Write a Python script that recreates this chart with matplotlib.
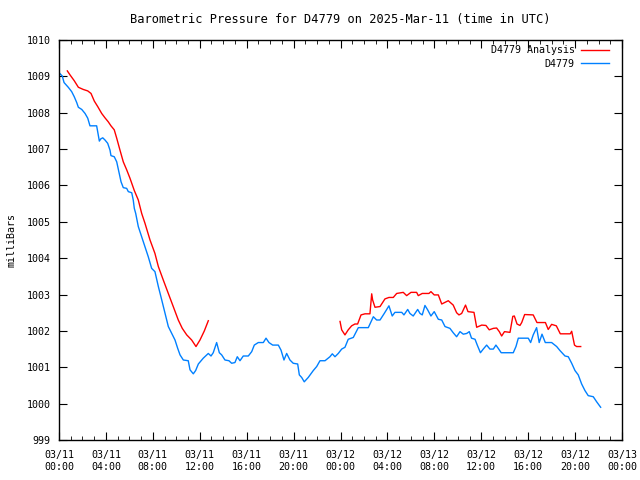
import matplotlib
matplotlib.use("Agg")
import matplotlib.pyplot as plt
import numpy as np

# hours since 2025-03-11 00:00 UTC, pressure in mb
obs_t = [0.00, 0.28, 0.43, 0.79, 1.08, 1.30, 1.51, 1.65, 1.94, 2.22, 2.45, 2.64, 3.21, 3.35, 3.44,
         3.56, 3.73, 3.92, 4.15, 4.35, 4.43, 4.71, 4.92, 5.14, 5.29, 5.48, 5.77, 5.91, 6.20, 6.33,
         6.42, 6.54, 6.76, 7.05, 7.33, 7.61, 7.90, 8.18, 8.47, 8.76, 9.04, 9.32, 9.61, 9.89, 10.12,
         10.32, 10.60, 11.02, 11.17, 11.45, 11.65, 11.88, 12.30, 12.73, 12.96, 13.15, 13.44, 13.67,
         13.87, 14.15, 14.49, 14.72, 15.00, 15.20, 15.43, 15.71, 16.14, 16.43, 16.65, 16.99, 17.42,
         17.65, 17.90, 18.22, 18.70, 18.93, 19.18, 19.41, 19.69, 19.97, 20.35, 20.49, 20.69, 20.91,
         21.25, 21.68, 21.97, 22.25, 22.68, 23.10, 23.30, 23.53, 23.81, 24.10, 24.38, 24.66, 25.09,
         25.52, 26.37, 26.80, 27.08, 27.37, 27.73, 28.13, 28.41, 28.64, 29.22, 29.41, 29.73, 29.92,
         30.20, 30.58, 30.78, 30.97, 31.20, 31.43, 31.71, 31.99, 32.34, 32.63, 32.91, 33.33, 33.61,
         33.90, 34.19, 34.47, 34.76, 34.98, 35.17, 35.47, 35.66, 35.93, 36.17, 36.46, 36.74, 37.03,
         37.25, 37.45, 37.70, 38.73, 38.96, 39.16, 40.01, 40.21, 40.43, 40.72, 40.94, 41.18, 41.46,
         42.00, 42.43, 42.71, 43.14, 43.42, 43.71, 43.99, 44.27, 44.56, 44.84, 45.12, 45.55, 45.84,
         46.18]
obs_p = [1009.10, 1009.01, 1008.83, 1008.70, 1008.58, 1008.44, 1008.28, 1008.15, 1008.09, 1007.98,
         1007.85, 1007.64, 1007.64, 1007.39, 1007.22, 1007.28, 1007.31, 1007.25, 1007.16, 1006.97,
         1006.82, 1006.79, 1006.65, 1006.33, 1006.10, 1005.94, 1005.92, 1005.83, 1005.80, 1005.60,
         1005.37, 1005.23, 1004.87, 1004.59, 1004.32, 1004.04, 1003.72, 1003.63, 1003.22, 1002.85,
         1002.48, 1002.12, 1001.93, 1001.75, 1001.52, 1001.34, 1001.20, 1001.18, 1000.93, 1000.82,
         1000.91, 1001.09, 1001.25, 1001.38, 1001.31, 1001.40, 1001.68, 1001.40, 1001.34, 1001.20,
         1001.18, 1001.11, 1001.13, 1001.29, 1001.18, 1001.31, 1001.31, 1001.43, 1001.61, 1001.68,
         1001.68, 1001.80, 1001.68, 1001.61, 1001.61, 1001.47, 1001.20, 1001.38, 1001.20, 1001.11,
         1001.09, 1000.79, 1000.72, 1000.60, 1000.72, 1000.91, 1001.02, 1001.18, 1001.18, 1001.29,
         1001.37, 1001.29, 1001.38, 1001.50, 1001.55, 1001.77, 1001.82, 1002.09, 1002.09, 1002.39,
         1002.30, 1002.30, 1002.48, 1002.69, 1002.41, 1002.51, 1002.51, 1002.44, 1002.59, 1002.48,
         1002.41, 1002.59, 1002.48, 1002.44, 1002.70, 1002.58, 1002.41, 1002.53, 1002.32, 1002.30,
         1002.12, 1002.07, 1001.95, 1001.84, 1001.98, 1001.91, 1001.93, 1001.98, 1001.80, 1001.77,
         1001.61, 1001.40, 1001.50, 1001.61, 1001.50, 1001.50, 1001.61, 1001.52, 1001.40, 1001.40,
         1001.57, 1001.80, 1001.80, 1001.68, 1001.89, 1002.09, 1001.68, 1001.91, 1001.68, 1001.68,
         1001.57, 1001.46, 1001.31, 1001.29, 1001.11, 1000.91, 1000.79, 1000.54, 1000.36, 1000.22,
         1000.19, 1000.05, 999.90]

# analysis, two pieces with a gap between them
ana1_t = [0.71, 0.94, 1.30, 1.65, 2.07, 2.45, 2.73, 3.01, 3.30, 3.64, 3.92, 4.20, 4.43, 4.71, 4.92,
          5.20, 5.48, 5.77, 6.05, 6.42, 6.76, 7.05, 7.33, 7.76, 8.18, 8.47, 8.89, 9.32, 9.74, 10.17,
          10.51, 10.89, 11.31, 11.68, 12.02, 12.39, 12.73]
ana1_p = [1009.15, 1009.04, 1008.88, 1008.70, 1008.64, 1008.60, 1008.53, 1008.32, 1008.17, 1007.98,
          1007.86, 1007.75, 1007.64, 1007.53, 1007.30, 1006.97, 1006.65, 1006.43, 1006.20, 1005.86,
          1005.60, 1005.23, 1004.96, 1004.50, 1004.13, 1003.77, 1003.40, 1003.03, 1002.67, 1002.30,
          1002.07, 1001.89, 1001.75, 1001.57, 1001.75, 1002.00, 1002.28]
ana2_t = [23.96, 24.10, 24.38, 24.66, 24.95, 25.23, 25.46, 25.75, 26.09, 26.51, 26.66, 26.74, 26.94,
          27.37, 27.79, 28.13, 28.50, 28.79, 29.35, 29.64, 30.01, 30.49, 30.63, 30.97, 31.54, 31.71,
          31.99, 32.34, 32.63, 33.19, 33.61, 33.90, 34.10, 34.33, 34.66, 34.87, 35.38, 35.61, 36.04,
          36.40, 36.68, 37.03, 37.31, 37.54, 37.74, 37.98, 38.45, 38.69, 38.82, 39.05, 39.30, 39.45,
          39.70, 40.43, 40.75, 41.47, 41.71, 42.00, 42.40, 42.74, 43.59, 43.71, 43.95, 44.13, 44.48]
ana2_p = [1002.26, 1002.03, 1001.89, 1002.03, 1002.14, 1002.19, 1002.19, 1002.44, 1002.47, 1002.47,
          1003.02, 1002.85, 1002.65, 1002.67, 1002.88, 1002.92, 1002.92, 1003.03, 1003.06, 1002.97,
          1003.06, 1003.06, 1002.97, 1003.03, 1003.03, 1003.08, 1002.99, 1002.99, 1002.74, 1002.83,
          1002.71, 1002.50, 1002.44, 1002.48, 1002.71, 1002.53, 1002.51, 1002.10, 1002.16, 1002.15,
          1002.03, 1002.07, 1002.08, 1001.98, 1001.86, 1001.98, 1001.96, 1002.40, 1002.41, 1002.19,
          1002.15, 1002.23, 1002.45, 1002.44, 1002.23, 1002.23, 1002.04, 1002.18, 1002.14, 1001.92,
          1001.92, 1001.99, 1001.61, 1001.57, 1001.57]

xticks = list(range(0, 49, 4))
xlabels = ["03/11\n00:00", "03/11\n04:00", "03/11\n08:00", "03/11\n12:00", "03/11\n16:00",
           "03/11\n20:00", "03/12\n00:00", "03/12\n04:00", "03/12\n08:00", "03/12\n12:00",
           "03/12\n16:00", "03/12\n20:00", "03/13\n00:00"]
yticks = list(range(999, 1011))

plt.rcParams['font.family'] = ['DejaVu Sans Mono']
plt.rcParams['font.size'] = 7.2

fig = plt.figure(figsize=(6.4, 4.8), dpi=100)
ax = fig.add_axes([59/640, 40/480, 563/640, 400/480])

ana_col = '#ff0000'
obs_col = '#0080ff'
ax.plot(ana1_t, ana1_p, color=ana_col, lw=1, label='D4779 Analysis')
ax.plot(ana2_t, ana2_p, color=ana_col, lw=1)
ax.plot(obs_t, obs_p, color=obs_col, lw=1, label='D4779')

ax.set_xlim(0, 48)
ax.set_ylim(999, 1010)
ax.set_xticks(xticks)
ax.set_xticklabels(xlabels, linespacing=1.3)
ax.set_xticks(np.arange(0, 49, 1), minor=True)
ax.set_yticks(yticks)
ax.tick_params(axis='both', which='both', direction='in', top=True, right=True, colors='black')
ax.tick_params(axis='x', which='major', length=6, pad=7)
ax.tick_params(axis='x', which='minor', length=3)
ax.tick_params(axis='y', which='major', length=6, pad=6)
for s in ax.spines.values():
    s.set_linewidth(1)

ax.set_ylabel('milliBars', labelpad=7)
ax.set_title('Barometric Pressure for D4779 on 2025-Mar-11 (time in UTC)', pad=12)
ax.legend(loc='upper right', bbox_to_anchor=(0.986, 1.0), frameon=False, markerfirst=False,
          handlelength=2.8, borderaxespad=0.15, labelspacing=0.35, handletextpad=0.6)

fig.savefig('out.png', dpi=100)
